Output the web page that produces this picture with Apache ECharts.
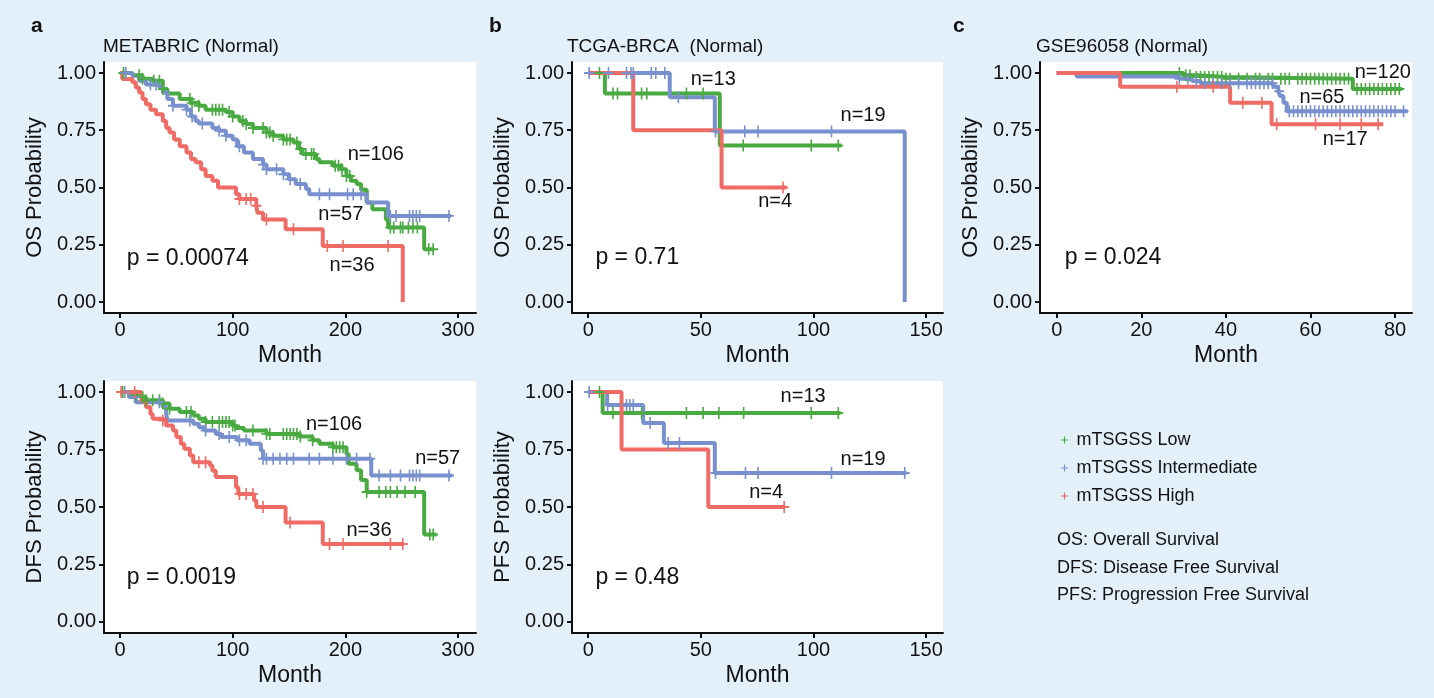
<!DOCTYPE html>
<html>
<head>
<meta charset="utf-8">
<title>mTSGSS survival curves</title>
<script src="https://cdn.jsdelivr.net/npm/echarts@6/dist/echarts.min.js"></script>
<style>
  html, body { margin: 0; padding: 0; background: #e3f0f9; }
  #main { width: 1434px; height: 698px; }
</style>
</head>
<body>
<div id="main"></div>
<script>
// ---- data ----
const groups = ['mTSGSS Low', 'mTSGSS Intermediate', 'mTSGSS High'];
const yTicks = [0, 0.25, 0.5, 0.75, 1];
const aTicks = [0, 100, 200, 300];
const bTicks = [0, 50, 100, 150];
const cTicks = [0, 20, 40, 60, 80];

// a: METABRIC OS
const aOsLowTime = [0, 11, 20, 29, 38, 42, 53, 63, 70, 76, 94, 100, 106, 112, 118, 130, 136, 145, 154, 159, 162, 174, 177, 189, 196, 201, 205, 210, 214, 219, 224, 236, 238, 270, 278];
const aOsLowSurv = [1, 0.99, 0.975, 0.966, 0.93, 0.91, 0.886, 0.87, 0.857, 0.84, 0.83, 0.81, 0.79, 0.777, 0.76, 0.74, 0.726, 0.71, 0.697, 0.668, 0.646, 0.624, 0.61, 0.595, 0.58, 0.55, 0.53, 0.515, 0.49, 0.434, 0.405, 0.36, 0.325, 0.23, 0.23];
const aOsLowCens = [3, 5, 17, 20, 30, 35, 38, 62, 64, 70, 82, 85, 88, 91, 97, 100, 109, 112, 118, 127, 130, 133, 136, 145, 148, 151, 157, 160, 165, 170, 172, 191, 194, 197, 201, 204, 240, 243, 249, 251, 256, 260, 264, 274, 278];
const aOsIntTime = [0, 11, 17, 23, 35, 38, 42, 47, 59, 63, 67, 70, 82, 88, 94, 100, 104, 110, 118, 127, 130, 145, 150, 156, 165, 168, 219, 238, 294];
const aOsIntSurv = [1, 0.988, 0.966, 0.95, 0.937, 0.915, 0.886, 0.857, 0.84, 0.81, 0.79, 0.78, 0.76, 0.748, 0.726, 0.71, 0.68, 0.653, 0.624, 0.6, 0.58, 0.558, 0.536, 0.515, 0.493, 0.47, 0.434, 0.376, 0.376];
const aOsIntCens = [5, 27, 32, 47, 59, 64, 73, 88, 94, 106, 127, 130, 139, 145, 151, 160, 177, 186, 202, 207, 214, 240, 245, 257, 260, 263, 266, 292];
const aOsHighTime = [0, 2, 11, 14, 17, 20, 23, 27, 32, 38, 41, 44, 48, 53, 59, 63, 67, 72, 76, 82, 87, 103, 106, 121, 122, 127, 147, 180, 251];
const aOsHighSurv = [1, 0.974, 0.96, 0.937, 0.915, 0.886, 0.864, 0.84, 0.82, 0.79, 0.76, 0.74, 0.71, 0.68, 0.653, 0.624, 0.61, 0.58, 0.55, 0.53, 0.5, 0.47, 0.45, 0.42, 0.39, 0.36, 0.318, 0.245, 0];
const aOsHighCens = [106, 112, 116, 121, 130, 154, 184, 198, 238];

// a: METABRIC DFS
const aDfsLowTime = [0, 11, 17, 23, 38, 44, 53, 65, 70, 76, 100, 103, 110, 130, 159, 171, 177, 189, 201, 203, 210, 214, 219, 270, 281];
const aDfsLowSurv = [1, 0.985, 0.978, 0.964, 0.95, 0.927, 0.913, 0.898, 0.884, 0.87, 0.855, 0.844, 0.833, 0.818, 0.807, 0.79, 0.775, 0.76, 0.73, 0.688, 0.66, 0.617, 0.565, 0.38, 0.38];
const aDfsLowCens = [2, 4, 14, 20, 23, 29, 35, 38, 44, 59, 63, 76, 82, 88, 91, 94, 97, 100, 102, 118, 130, 133, 145, 148, 151, 154, 157, 160, 171, 189, 192, 195, 198, 219, 230, 236, 240, 246, 253, 262, 275, 278];
const aDfsIntTime = [0, 8, 14, 38, 41, 42, 65, 70, 75, 85, 90, 104, 115, 125, 127, 223, 295];
const aDfsIntSurv = [1, 0.978, 0.956, 0.935, 0.905, 0.876, 0.862, 0.847, 0.833, 0.818, 0.804, 0.79, 0.775, 0.746, 0.71, 0.637, 0.637];
const aDfsIntCens = [4, 13, 35, 62, 76, 88, 97, 106, 112, 127, 130, 136, 142, 148, 154, 168, 177, 189, 201, 210, 222, 230, 240, 249, 257, 260, 263, 266, 292];
const aDfsHighTime = [0, 19, 23, 27, 29, 38, 41, 47, 50, 54, 57, 62, 65, 80, 82, 85, 103, 105, 119, 121, 147, 180, 252];
const aDfsHighSurv = [1, 0.96, 0.935, 0.905, 0.884, 0.876, 0.855, 0.833, 0.804, 0.775, 0.753, 0.724, 0.695, 0.68, 0.658, 0.63, 0.586, 0.557, 0.528, 0.5, 0.433, 0.339, 0.339];
const aDfsHighCens = [1, 13, 38, 70, 76, 106, 112, 118, 127, 151, 186, 198, 240, 251];

// b: TCGA-BRCA OS
const bOsLowTime = [0, 7.4, 58.4, 112.4];
const bOsLowSurv = [1, 0.91, 0.683, 0.683];
const bOsLowCens = [5, 11, 13, 23.7, 26, 43.6, 51, 68.8, 99, 111];
const bOsIntTime = [0, 36.2, 56.2, 140.5];
const bOsIntSurv = [1, 0.894, 0.745, 0];
const bOsIntCens = [0.4, 9, 17, 19, 20, 28, 30, 34, 40, 56.5, 69.5, 75.4, 108];
const bOsHighTime = [0, 20, 59.2, 88];
const bOsHighSurv = [1, 0.75, 0.5, 0.5];
const bOsHighCens = [86.5];

// b: TCGA-BRCA PFS
const bPfsLowTime = [0, 6.4, 112];
const bPfsLowSurv = [1, 0.909, 0.909];
const bPfsLowCens = [5, 11, 23.7, 43.6, 51, 58, 69, 99, 111];
const bPfsIntTime = [0, 8.4, 24.4, 33.6, 56.2, 141.3];
const bPfsIntSurv = [1, 0.944, 0.865, 0.778, 0.648, 0.648];
const bPfsIntCens = [0.4, 8.6, 17, 18.5, 20, 27.5, 35.5, 40.5, 56.5, 69.8, 75.4, 108, 140.5];
const bPfsHighTime = [0, 14.8, 53.3, 87];
const bPfsHighSurv = [1, 0.75, 0.5, 0.5];
const bPfsHighCens = [87];

// c: GSE96058 OS
const cOsLowTime = [0, 30, 33, 40, 70, 81.6];
const cOsLowSurv = [1, 0.99, 0.982, 0.975, 0.93, 0.93];
const cOsLowCens = [29, 30.5, 31.5, 33, 34, 35, 36, 37, 38, 39, 40, 41, 43, 45, 47, 48, 50, 51, 53, 54, 55, 57, 58, 59, 60, 61, 62, 63, 64, 65, 66, 67, 68, 69, 71, 72, 73, 74, 75, 76, 77, 78, 79, 80, 81];
const cOsIntTime = [0, 4.7, 29, 32, 34, 51.2, 52.4, 52.8, 53.6, 54.4, 83];
const cOsIntSurv = [1, 0.985, 0.975, 0.965, 0.955, 0.94, 0.92, 0.9, 0.87, 0.833, 0.833];
const cOsIntCens = [29, 31, 33, 35, 37, 39, 41, 43, 45, 46, 47, 48, 49, 50, 51, 52.6, 55, 56, 57, 58, 59, 60, 61, 62, 63, 64, 65, 66, 67, 68, 69, 70, 71, 72, 73, 74, 75, 76, 77, 78, 79, 80, 82];
const cOsHighTime = [0, 15, 41, 50.8, 77.2];
const cOsHighSurv = [1, 0.94, 0.87, 0.776, 0.776];
const cOsHighCens = [28.4, 37, 44, 48.5, 52, 61.2, 67, 72, 76];

const pValues = ['p = 0.00074', 'p = 0.0019', 'p = 0.71', 'p = 0.48', 'p = 0.024'];
const nLabels = [
  ['n=106', 'n=57', 'n=36'],
  ['n=106', 'n=57', 'n=36'],
  ['n=13', 'n=19', 'n=4'],
  ['n=13', 'n=19', 'n=4'],
  ['n=120', 'n=65', 'n=17']
];

// ---- layout ----
const colors = ['#49aa41', '#7890cd', '#ef6b66'];
const ink = '#111';
const font = "'Liberation Sans', Arial, sans-serif";
const plusIcon = 'path://M4.2,0H5.8V4.2H10V5.8H5.8V10H4.2V5.8H0V4.2H4.2Z';

const panels = [
  { grid: { left: 104, top: 62, width: 372, height: 251 }, xr: [-14.2, 316], ticks: aTicks, yName: 'OS Probability',
    curves: [[aOsLowTime, aOsLowSurv, aOsLowCens], [aOsIntTime, aOsIntSurv, aOsIntCens], [aOsHighTime, aOsHighSurv, aOsHighCens]],
    nPos: [[227, 0.646], [196, 0.38], [206, 0.16]], pPos: [6, 0.19] },
  { grid: { left: 104, top: 381, width: 372, height: 252 }, xr: [-14.2, 316], ticks: aTicks, yName: 'DFS Probability',
    curves: [[aDfsLowTime, aDfsLowSurv, aDfsLowCens], [aDfsIntTime, aDfsIntSurv, aDfsIntCens], [aDfsHighTime, aDfsHighSurv, aDfsHighCens]],
    nPos: [[190, 0.859], [282, 0.71], [221, 0.40]], pPos: [6, 0.193] },
  { grid: { left: 572, top: 62, width: 371, height: 251 }, xr: [-7.2, 157.5], ticks: bTicks, yName: 'OS Probability',
    curves: [[bOsLowTime, bOsLowSurv, bOsLowCens], [bOsIntTime, bOsIntSurv, bOsIntCens], [bOsHighTime, bOsHighSurv, bOsHighCens]],
    nPos: [[55.5, 0.971], [122, 0.813], [83, 0.439]], pPos: [3.2, 0.194] },
  { grid: { left: 572, top: 381, width: 371, height: 252 }, xr: [-7.2, 157.5], ticks: bTicks, yName: 'PFS Probability',
    curves: [[bPfsLowTime, bPfsLowSurv, bPfsLowCens], [bPfsIntTime, bPfsIntSurv, bPfsIntCens], [bPfsHighTime, bPfsHighSurv, bPfsHighCens]],
    nPos: [[95.4, 0.981], [122, 0.705], [79, 0.564]], pPos: [3.2, 0.193] },
  { grid: { left: 1040, top: 62, width: 372, height: 251 }, xr: [-3.95, 84], ticks: cTicks, yName: 'OS Probability',
    curves: [[cOsLowTime, cOsLowSurv, cOsLowCens], [cOsIntTime, cOsIntSurv, cOsIntCens], [cOsHighTime, cOsHighSurv, cOsHighCens]],
    nPos: [[77.1, 1.003], [62.7, 0.891], [68.2, 0.71]], pPos: [1.9, 0.194] }
];

// survival value just after time t
function survAt(time, surv, t) {
  let v = surv[0];
  for (let i = 0; i < time.length; i++) {
    if (time[i] <= t) v = surv[i];
  }
  return v;
}

const grid = [], xAxis = [], yAxis = [], series = [];
panels.forEach((p, i) => {
  grid.push(Object.assign({ show: true, backgroundColor: '#fff', borderWidth: 0 }, p.grid));
  xAxis.push({
    gridIndex: i, type: 'value', min: p.xr[0], max: p.xr[1],
    axisLine: { show: true, onZero: false, lineStyle: { color: '#111', width: 2 } },
    axisTick: { show: true, customValues: p.ticks, length: 5, lineStyle: { color: '#111', width: 2 } },
    axisLabel: { customValues: p.ticks, fontSize: 20, color: ink, margin: 7, fontFamily: font },
    splitLine: { show: false },
    name: 'Month', nameLocation: 'middle', nameGap: 31,
    nameTextStyle: { fontSize: 23, color: ink, fontFamily: font }
  });
  yAxis.push({
    gridIndex: i, type: 'value', min: -0.048, max: 1.048,
    axisLine: { show: true, onZero: false, lineStyle: { color: '#111', width: 2 } },
    axisTick: { show: true, customValues: yTicks, length: 5, lineStyle: { color: '#111', width: 2 } },
    axisLabel: { customValues: yTicks, fontSize: 20, color: ink, margin: 8, fontFamily: font,
      formatter: v => v.toFixed(2) },
    splitLine: { show: false },
    name: p.yName, nameLocation: 'middle', nameGap: 58,
    nameTextStyle: { fontSize: 22, color: ink, fontFamily: font }
  });
  p.curves.forEach((c, g) => {
    const [time, surv, cens] = c;
    series.push({
      name: groups[g], type: 'line', step: 'end', xAxisIndex: i, yAxisIndex: i,
      showSymbol: false, silent: true, z: 3,
      lineStyle: { color: colors[g], width: 4 }, itemStyle: { color: colors[g] },
      data: time.map((t, k) => [t, surv[k]])
    });
    series.push({
      name: groups[g], type: 'scatter', xAxisIndex: i, yAxisIndex: i,
      symbol: plusIcon, symbolSize: [10, 12], silent: true, z: 4,
      itemStyle: { color: colors[g], opacity: 1 },
      data: cens.map(t => [t, survAt(time, surv, t)])
    });
  });
  series.push({
    name: 'n', type: 'scatter', xAxisIndex: i, yAxisIndex: i, symbolSize: 0, silent: true, z: 6,
    itemStyle: { opacity: 1 },
    label: { show: true, position: 'inside', fontSize: 20, color: ink, opacity: 1, fontFamily: font,
      formatter: d => d.value[2] },
    data: p.nPos.map((pos, g) => [pos[0], pos[1], nLabels[i][g]])
  });
  series.push({
    name: 'p', type: 'scatter', xAxisIndex: i, yAxisIndex: i, symbolSize: 0, silent: true, z: 6,
    itemStyle: { opacity: 1 },
    label: { show: true, position: 'right', distance: 0, fontSize: 23, color: ink, opacity: 1, fontFamily: font,
      formatter: d => d.value[2] },
    data: [[p.pPos[0], p.pPos[1], pValues[i]]]
  });
});

function txt(left, top, text, size, weight) {
  return { type: 'text', left: left, top: top,
    style: { text: text, fontSize: size, fontWeight: weight || 'normal', fill: ink, font: (weight || 'normal') + ' ' + size + 'px ' + font } };
}

const chart = echarts.init(document.getElementById('main'));
chart.setOption({
  animation: false,
  backgroundColor: '#e3f0f9',
  textStyle: { fontFamily: font },
  grid: grid, xAxis: xAxis, yAxis: yAxis, series: series,
  legend: {
    orient: 'vertical', left: 1056, top: 426, itemWidth: 14, itemHeight: 7, itemGap: 10,
    selectedMode: false,
    textStyle: { fontSize: 18, color: ink, fontFamily: font },
    data: groups.map(g => ({ name: g, icon: plusIcon }))
  },
  graphic: [
    txt(31, 16, 'a', 21, 'bold'),
    txt(103, 37, 'METABRIC (Normal)', 19),
    txt(489, 16, 'b', 21, 'bold'),
    txt(567, 37, 'TCGA-BRCA  (Normal)', 19),
    txt(953, 16, 'c', 21, 'bold'),
    txt(1036, 37, 'GSE96058 (Normal)', 19),
    txt(1057, 531, 'OS: Overall Survival', 18),
    txt(1057, 559, 'DFS: Disease Free Survival', 18),
    txt(1057, 586, 'PFS: Progression Free Survival', 18)
  ]
});
</script>
</body>
</html>
